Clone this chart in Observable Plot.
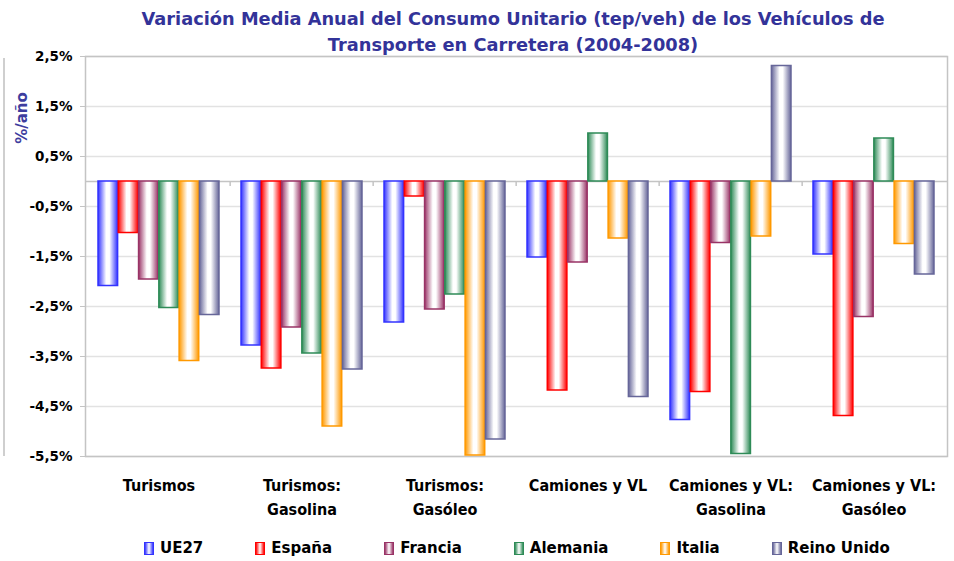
<!DOCTYPE html>
<html>
<head>
<meta charset="utf-8">
<script src="https://cdn.jsdelivr.net/npm/d3@7"></script>
<script src="https://cdn.jsdelivr.net/npm/@observablehq/plot@0.6"></script>
<style>
  html, body { margin: 0; padding: 0; background: #fff; }
  #wrap { position: relative; width: 954px; height: 561px; overflow: hidden; font-family: "DejaVu Sans", Verdana, sans-serif; }
  #title { position: absolute; left: 513px; top: 6px; transform: translateX(-50%); text-align: center; font-weight: bold; font-size: 17.8px; line-height: 26px; color: #333399; white-space: nowrap; z-index: 2; }
  #ylab { position: absolute; left: 22px; top: 118px; transform: translate(-50%, -50%) rotate(-90deg); font-weight: bold; font-size: 15px; color: #3d3d9e; white-space: nowrap; }
  #legend { position: absolute; left: 144px; top: 539px; display: flex; align-items: center; font-weight: bold; font-size: 15px; color: #000; }
  .item { display: flex; align-items: center; margin-right: 52px; }
  .sw { width: 8px; height: 11px; margin-right: 6px; border: 1.5px solid; }
  #chart { position: absolute; left: 0; top: 0; }
  .art { position: absolute; background: #cfcfcf; }
</style>
</head>
<body>
<div id="wrap">
  <div id="chart"></div>
  <div id="title">Variación Media Anual del Consumo Unitario (tep/veh) de los Vehículos de<br>Transporte en Carretera (2004-2008)</div>
  <div id="ylab">%/año</div>
  <div id="legend"></div>
</div>
<script>
const categories = ["Turismos", "Turismos:\nGasolina", "Turismos:\nGasóleo", "Camiones y VL", "Camiones y VL:\nGasolina", "Camiones y VL:\nGasóleo"];
const series = ["UE27", "España", "Francia", "Alemania", "Italia", "Reino Unido"];
const colors = ["#3333FF", "#FF0000", "#993366", "#2E8B57", "#FF9900", "#666699"];
const UE27 =       [-2.09, -3.28, -2.82, -1.52, -4.77, -1.46];
const Espana =     [-1.03, -3.74, -0.30, -4.18, -4.21, -4.69];
const Francia =    [-1.96, -2.92, -2.56, -1.62, -1.23, -2.71];
const Alemania =   [-2.53, -3.44, -2.26,  0.96, -5.45,  0.86];
const Italia =     [-3.59, -4.90, -5.48, -1.14, -1.10, -1.25];
const ReinoUnido = [-2.67, -3.76, -5.16, -4.31,  2.31, -1.86];
const yTicks = [2.5, 1.5, 0.5, -0.5, -1.5, -2.5, -3.5, -4.5, -5.5];

const seriesValues = [UE27, Espana, Francia, Alemania, Italia, ReinoUnido];
const data = [];
series.forEach((s, i) => categories.forEach((c, j) => data.push({serie: s, cat: c, value: seriesValues[i][j], si: i})));

const W = 954, H = 530, mL = 85, mR = 7, mT = 56, mB = 74;
const band = (W - mL - mR) / categories.length;
const groupPad = 11;
const bw = (band - 2 * groupPad) / series.length;
const fmt = d => d.toFixed(1).replace(".", ",") + "%";

const marks = [
  Plot.ruleY(yTicks, {stroke: "#e2e2e2", strokeWidth: 1.5}),
  Plot.frame({stroke: "#c4c4c4", strokeWidth: 1.5}),
  Plot.ruleY([0], {stroke: "#c4c4c4", strokeWidth: 1.5}),
  Plot.ruleX(categories.slice(1), {y1: 0, y2: -0.1, dx: -band / 2, stroke: "#c4c4c4", strokeWidth: 1.5}),
  Plot.axisY({ticks: yTicks, tickFormat: fmt, tickSize: 5, tickPadding: 8, stroke: "#c4c4c4", fontSize: 13.5, fontWeight: "bold", fill: "#000", label: null}),
  Plot.axisX({tickSize: 0, tickPadding: 17, fontSize: 16, fontWeight: "bold", fill: "#000", lineHeight: 1.5, label: null, fontFamily: "'DejaVu Sans Condensed', 'Liberation Sans Narrow', sans-serif"})
];
series.forEach((s, i) => {
  marks.push(Plot.barY(data, {
    filter: d => d.serie === s,
    x: "cat", y: "value",
    fill: `url(#grad${i})`,
    stroke: colors[i], strokeWidth: 1.5,
    insetLeft: groupPad + i * bw,
    insetRight: band - groupPad - (i + 1) * bw
  }));
});

const svg = Plot.plot({
  width: W, height: H,
  marginLeft: mL, marginRight: mR, marginTop: mT, marginBottom: mB,
  style: {fontFamily: "'DejaVu Sans', Verdana, sans-serif", background: "transparent"},
  x: {type: "band", domain: categories, padding: 0, axis: null},
  y: {domain: [-5.5, 2.5], axis: null},
  marks
});

const defs = d3.select(svg).insert("defs", ":first-child");
colors.forEach((c, i) => {
  const g = defs.append("linearGradient").attr("id", `grad${i}`).attr("x1", "0").attr("x2", "1").attr("y1", "0").attr("y2", "0");
  g.append("stop").attr("offset", "0%").attr("stop-color", c);
  g.append("stop").attr("offset", "42%").attr("stop-color", "#ffffff");
  g.append("stop").attr("offset", "58%").attr("stop-color", "#ffffff");
  g.append("stop").attr("offset", "100%").attr("stop-color", c);
});
document.getElementById("chart").appendChild(svg);

const legend = document.getElementById("legend");
series.forEach((s, i) => {
  const it = document.createElement("div");
  it.className = "item";
  const sw = document.createElement("div");
  sw.className = "sw";
  sw.style.borderColor = colors[i];
  sw.style.background = `linear-gradient(to right, ${colors[i]}, #fff 50%, ${colors[i]})`;
  const t = document.createElement("span");
  t.textContent = s;
  it.appendChild(sw); it.appendChild(t);
  legend.appendChild(it);
});

// cropped border from neighbouring chart at the left edge
const wrap = document.getElementById("wrap");
const line = document.createElement("div");
line.className = "art";
Object.assign(line.style, {left: "3px", top: "58px", width: "1.5px", height: "398px"});
wrap.appendChild(line);
</script>
</body>
</html>
